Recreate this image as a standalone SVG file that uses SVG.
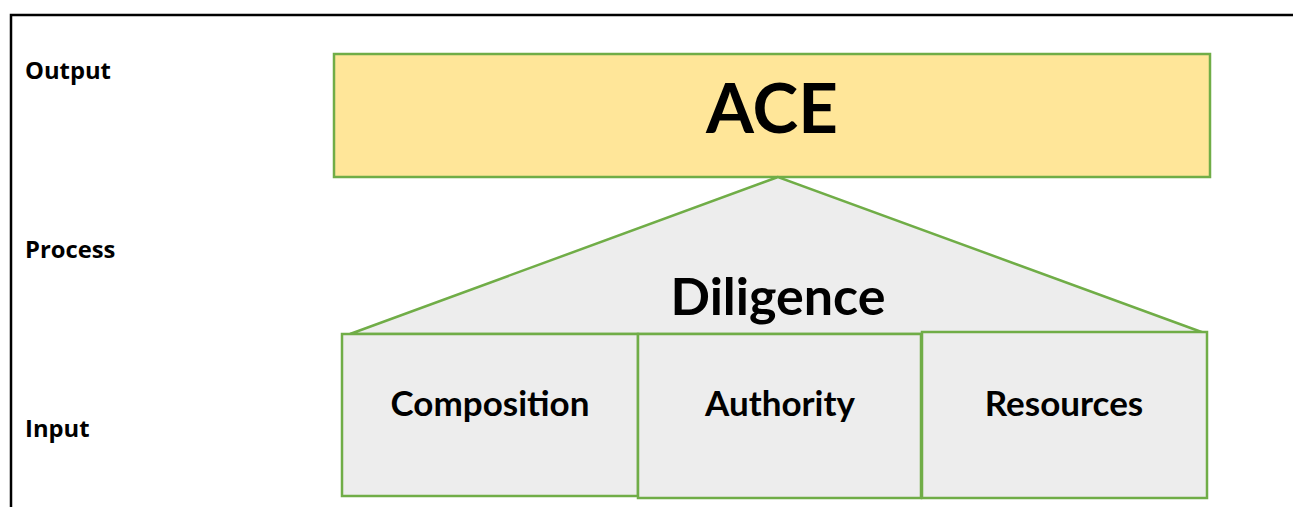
<svg xmlns="http://www.w3.org/2000/svg" width="1293" height="507" viewBox="0 0 1293 507">
  <style>
    .frame { fill: none; stroke: #000; stroke-width: 2.5; }
    .shape { stroke: #70AD47; stroke-width: 2.5; }
    .gray { fill: #EDEDED; }
    .side { font-family: "Open Sans", Lato, sans-serif; font-weight: bold; font-size: 23.8px; fill: #000; }
    .label { font-family: Lato, "Noto Sans", sans-serif; font-weight: bold; fill: #000; text-anchor: middle; }
  </style>
  <rect width="1293" height="507" fill="#fff"/>
  <!-- outer frame (top and left edges) -->
  <path class="frame" d="M11,507 V15 H1293"/>

  <!-- level captions -->
  <g id="captions">
    <text class="side" x="25" y="79">Output</text>
    <text class="side" x="25" y="258">Process</text>
    <text class="side" x="25" y="437">Input</text>
  </g>

  <g id="ace">
    <rect class="shape" x="334" y="54" width="876" height="123" fill="#FFE699"/>
    <text class="label" x="772" y="133" font-size="69">ACE</text>
  </g>

  <g id="diligence">
    <polygon class="shape gray" points="778,177 350,334 1207,334"/>
    <text class="label" x="778" y="315" font-size="52">Diligence</text>
  </g>

  <g id="composition">
    <rect class="shape gray" x="342" y="334" width="296" height="162"/>
    <text class="label" x="490" y="416" font-size="35">Composition</text>
  </g>

  <g id="authority">
    <rect class="shape gray" x="638" y="334" width="283" height="164"/>
    <text class="label" x="780" y="416" font-size="35">Authority</text>
  </g>

  <g id="resources">
    <rect class="shape gray" x="922" y="332" width="285" height="166"/>
    <text class="label" x="1064" y="416" font-size="35">Resources</text>
  </g>
</svg>
